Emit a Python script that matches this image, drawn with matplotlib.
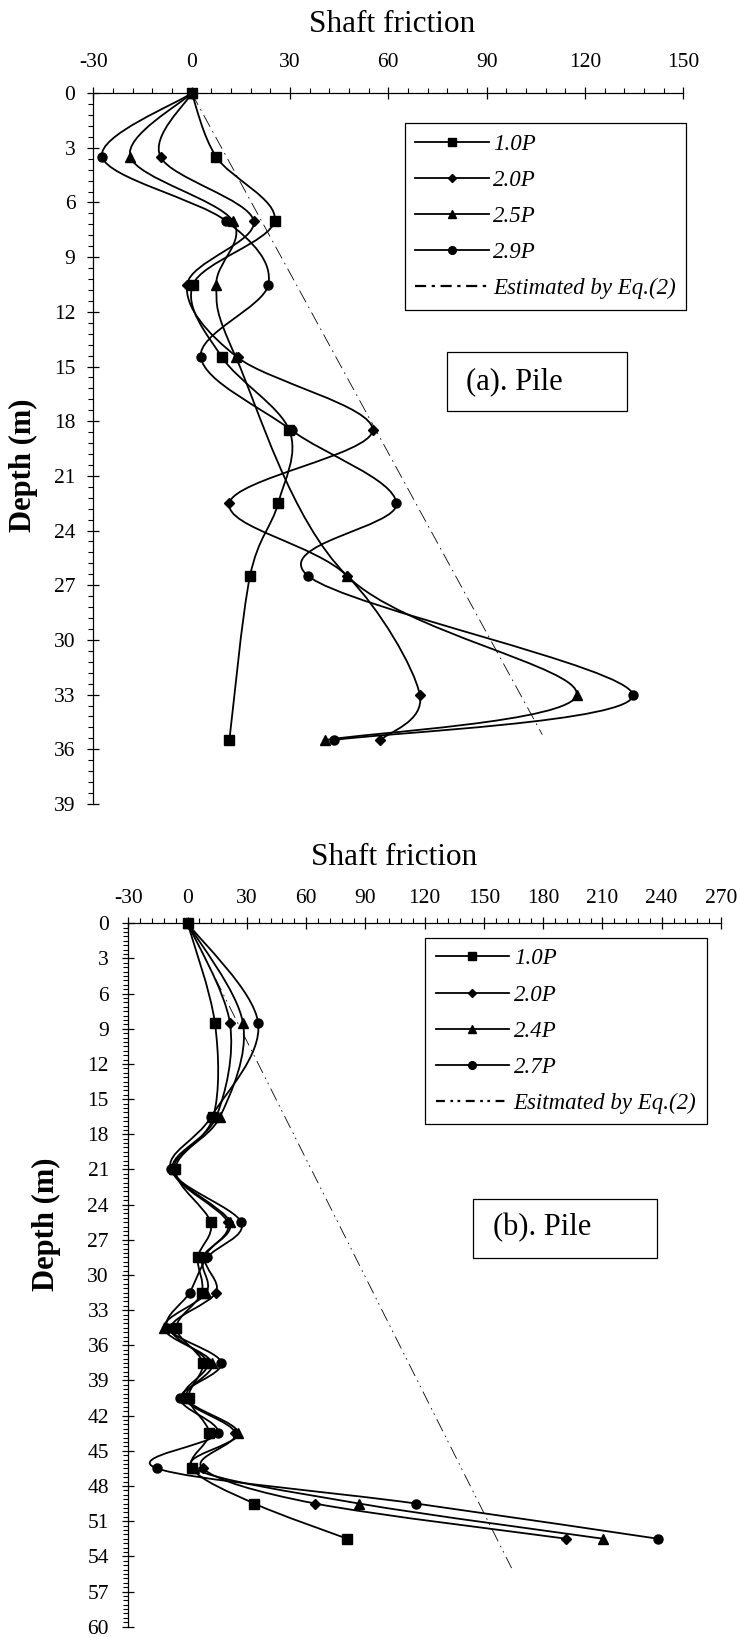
import numpy as np
import matplotlib
matplotlib.use('Agg')
import matplotlib.pyplot as plt
from matplotlib.path import Path
from matplotlib.patches import PathPatch, Rectangle
from matplotlib.lines import Line2D
from matplotlib.ticker import MultipleLocator

plt.rcParams['font.family'] = ['Liberation Serif', 'DejaVu Serif']
plt.rcParams['axes.unicode_minus'] = False

# (a) pile - shaft friction at each gauge depth (m)
a_depth_10 = [0, 3.5, 7, 10.5, 14.5, 18.5, 22.5, 26.5, 35.5]
a_fric_10 = [0, 7.5, 25.3, 0.4, 9.3, 29.8, 26.4, 17.8, 11.5]
a_depth_20 = [0, 3.5, 7, 10.5, 14.5, 18.5, 22.5, 26.5, 33, 35.5]
a_fric_20 = [0, -9.5, 18.9, -1.4, 14.0, 55.2, 11.5, 47.5, 69.6, 57.6]
a_depth_25 = [0, 3.5, 7, 10.5, 14.5, 26.5, 33, 35.5]
a_fric_25 = [0, -18.7, 12.5, 7.5, 13.5, 47.5, 117.5, 40.6]
a_depth_29 = [0, 3.5, 7, 10.5, 14.5, 18.5, 22.5, 26.5, 33, 35.5]
a_fric_29 = [0, -27.3, 10.4, 23.4, 2.8, 30.5, 62.5, 35.6, 134.6, 43.3]
a_est_depth = [0, 35.2]
a_est_fric = [0, 107]
a_labels = ['1.0P', '2.0P', '2.5P', '2.9P']

# (b) pile
b_depth = [0, 8.5, 16.5, 21, 25.5, 28.5, 31.5, 34.5, 37.5, 40.5, 43.5, 46.5, 49.5, 52.5]
b_fric_10 = [0, 13.8, 13.0, -6.2, 11.6, 5.2, 7.1, -5.7, 7.6, 0.5, 10.9, 2.4, 33.8, 80.8]
b_fric_20 = [0, 21.4, 14.5, -7.8, 20.2, 8.8, 14.3, -8.6, 10.0, -1.9, 24.2, 7.6, 64.7, 191.8]
b_fric_24 = [0, 28.0, 16.4, -7.0, 21.4, 7.6, 9.5, -12.1, 12.4, -0.7, 25.7, 3.3, 87.0, 210.4]
b_fric_27 = [0, 35.7, 11.9, -8.6, 27.1, 10.0, 1.0, -10.2, 17.1, -3.8, 15.2, -15.5, 115.8, 238.2]
b_est_depth = [0, 55]
b_est_fric = [0, 164]
b_labels = ['1.0P', '2.0P', '2.4P', '2.7P']

markers = [('s', 7), ('D', 4.6), ('^', 7), ('o', 6.5)]


def smooth_path(xs, ys):
    # Excel style smoothed line: cubic bezier through the points
    pts = np.column_stack([xs, ys]).astype(float)
    n = len(pts)
    verts = [pts[0]]
    codes = [Path.MOVETO]
    for i in range(n - 1):
        p0 = pts[i - 1] if i > 0 else pts[i]
        p1 = pts[i]
        p2 = pts[i + 1]
        p3 = pts[i + 2] if i + 2 < n else pts[i + 1]
        verts += [p1 + (p2 - p0) / 6, p2 - (p3 - p1) / 6, p2]
        codes += [Path.CURVE4] * 3
    return Path(verts, codes)


def setup_axis(ax, xmax, ymax, yminor, xpad, ypad):
    ax.set_xlim(-30, xmax)
    ax.set_ylim(ymax, 0)
    ax.xaxis.tick_top()
    ax.xaxis.set_label_position('top')
    ax.spines['right'].set_visible(False)
    ax.spines['bottom'].set_visible(False)
    for s in ['left', 'top']:
        ax.spines[s].set_linewidth(0.9)
    ax.xaxis.set_major_locator(MultipleLocator(30))
    ax.xaxis.set_minor_locator(MultipleLocator(6))
    ax.yaxis.set_major_locator(MultipleLocator(3))
    ax.yaxis.set_minor_locator(MultipleLocator(yminor))
    ax.tick_params(which='major', direction='inout', length=8, width=0.9, labelsize=15.5)
    ax.tick_params(which='minor', direction='out', length=3.5, width=0.8)
    ax.tick_params(axis='x', which='major', pad=xpad)
    ax.tick_params(axis='y', which='major', pad=ypad)
    ax.set_xlabel('Shaft friction', fontsize=22.5)
    ax.set_ylabel('Depth (m)', fontsize=22, fontweight='bold')
    ax.xaxis.label.set_va('center')
    ax.yaxis.label.set_va('center')


def draw_series(ax, series, labels, est_x, est_y, est_dash, leg_dash, est_label, leg_pos):
    handles = []
    for (xs, ys), (m, ms), lab in zip(series, markers, labels):
        ax.add_patch(PathPatch(smooth_path(xs, ys), fill=False, edgecolor='black', lw=1.3))
        ax.plot(xs, ys, linestyle='none', marker=m, ms=ms, color='black', clip_on=False, zorder=3)
        handles.append(Line2D([], [], color='black', lw=1.3, marker=m, ms=ms * 0.85, label=lab))
    ax.plot(est_x, est_y, color='black', lw=0.6, linestyle=est_dash)
    handles.append(Line2D([], [], color='black', lw=1.6, linestyle=leg_dash, label=est_label))
    leg = ax.legend(handles=handles, loc='upper left', bbox_to_anchor=leg_pos,
                    bbox_transform=ax.figure.transFigure, borderaxespad=0,
                    prop={'style': 'italic', 'size': 16.5}, frameon=True, fancybox=False,
                    edgecolor='black', framealpha=1, handlelength=3.2, handletextpad=0.2,
                    labelspacing=0.66, borderpad=0.45)
    leg.get_frame().set_linewidth(0.9)


fig = plt.figure(figsize=(7.37, 16.37), dpi=100)
ax1 = fig.add_axes([0.1267, 0.5089, 0.8003, 0.4342])
ax2 = fig.add_axes([0.1742, 0.0063, 0.8040, 0.4297])

setup_axis(ax1, 150, 39, 0.6, 11, 9)
setup_axis(ax2, 270, 60, 0.375, 7, 10)
ax1.xaxis.set_label_coords(0.507, 1.096)
ax1.yaxis.set_label_coords(-0.118, 0.477)
ax2.xaxis.set_label_coords(0.448, 1.094)
ax2.yaxis.set_label_coords(-0.139, 0.5725)

a_series = [(a_fric_10, a_depth_10), (a_fric_20, a_depth_20),
            (a_fric_25, a_depth_25), (a_fric_29, a_depth_29)]
b_series = [(b_fric_10, b_depth), (b_fric_20, b_depth),
            (b_fric_24, b_depth), (b_fric_27, b_depth)]

draw_series(ax1, a_series, a_labels, a_est_fric, a_est_depth, (0, (16, 6, 2, 6)),
            (0, (5, 2.5, 1.5, 2.5)), 'Estimated by Eq.(2)', (0.5495, 0.9247))
draw_series(ax2, b_series, b_labels, b_est_fric, b_est_depth, (0, (16, 6, 2, 5, 2, 6)),
            (0, (4, 2.5, 1.2, 2, 1.2, 2.5)), 'Esitmated by Eq.(2)', (0.5773, 0.4270))

# panel name boxes
fig.add_artist(Rectangle((0.6065, 0.7489), 0.2442, 0.0360, transform=fig.transFigure,
                         fill=False, edgecolor='black', lw=0.9))
fig.text(0.6323, 0.7669, '(a). Pile', fontsize=22, ha='left', va='center')
fig.add_artist(Rectangle((0.6418, 0.2315), 0.2497, 0.0360, transform=fig.transFigure,
                         fill=False, edgecolor='black', lw=0.9))
fig.text(0.6689, 0.2498, '(b). Pile', fontsize=22, ha='left', va='center')

fig.savefig('out.png', dpi=100)
